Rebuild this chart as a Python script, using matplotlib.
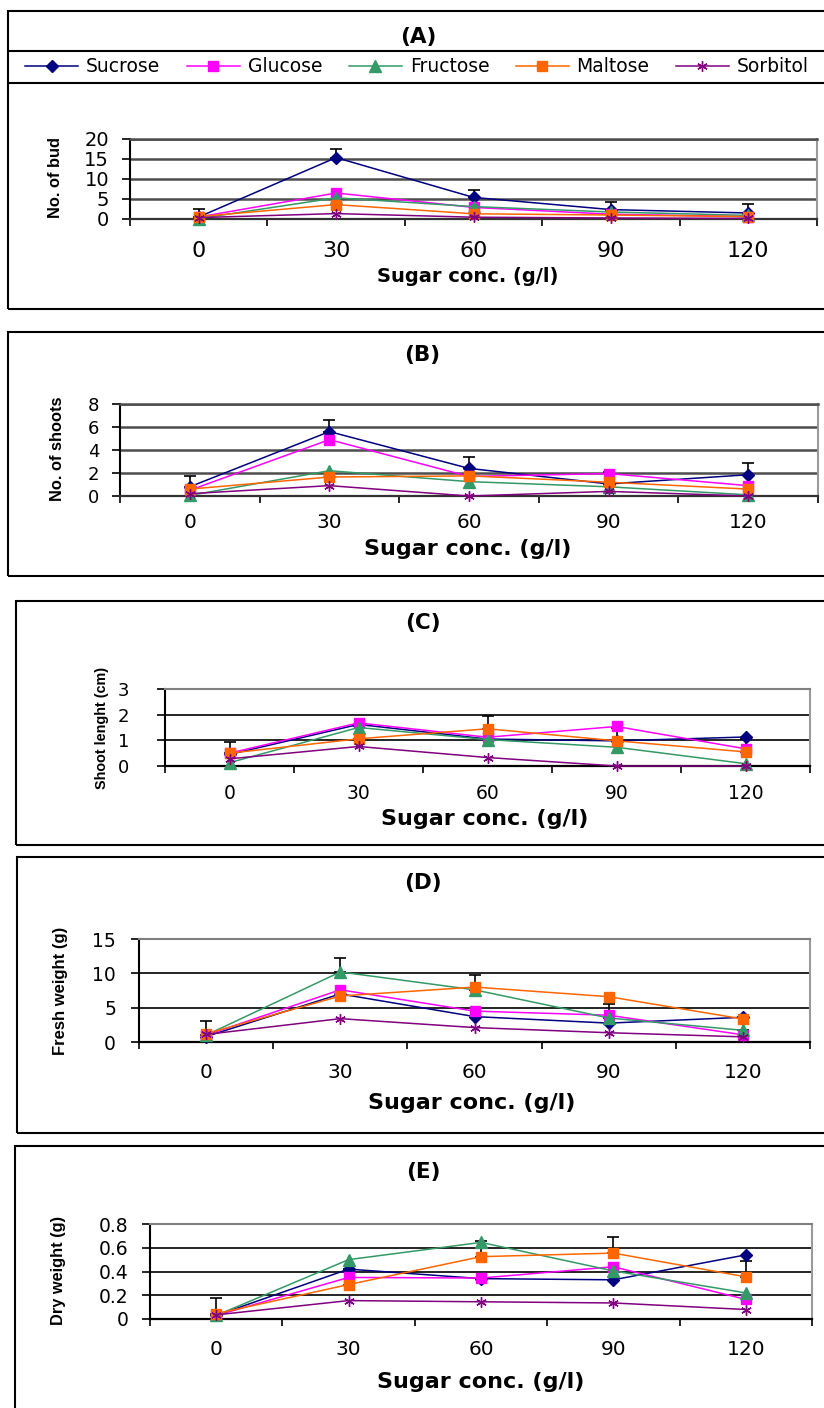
import numpy as np
import matplotlib
matplotlib.use("Agg")
import matplotlib.pyplot as plt
from matplotlib.patches import Rectangle
from matplotlib.lines import Line2D
from matplotlib.ticker import FixedLocator, FuncFormatter

# ---- data ----
sugar_conc = ["0", "30", "60", "90", "120"]
series_names = ["Sucrose", "Glucose", "Fructose", "Maltose", "Sorbitol"]

# (A) No. of bud
bud_sucrose = [0.5, 15.35, 5.4, 2.35, 1.5]
bud_glucose = [0.5, 6.5, 2.9, 1.2, 0.6]
bud_fructose = [0.1, 5.3, 3.1, 1.75, 0.9]
bud_maltose = [0.6, 3.6, 1.3, 1.0, 0.6]
bud_sorbitol = [0.35, 1.35, 0.45, 0.25, 0.15]
bud_err = [2.1, 2.05, 1.8, 1.9, 2.2]          # on Sucrose

# (B) No. of shoots
shoot_sucrose = [0.8, 5.6, 2.4, 1.05, 1.85]
shoot_glucose = [0.5, 4.9, 1.7, 1.95, 0.9]
shoot_fructose = [0.05, 2.2, 1.25, 0.8, 0.1]
shoot_maltose = [0.6, 1.65, 1.75, 1.2, 0.6]
shoot_sorbitol = [0.2, 0.9, 0.0, 0.4, 0.0]
shoot_err = [0.9, 1.0, 0.95, 1.0, 1.05]       # on Sucrose

# (C) Shoot length (cm)
length_sucrose = [0.45, 1.62, 1.05, 0.98, 1.13]
length_glucose = [0.5, 1.68, 1.12, 1.54, 0.67]
length_fructose = [0.13, 1.5, 1.03, 0.73, 0.09]
length_maltose = [0.5, 1.06, 1.45, 0.98, 0.55]
length_sorbitol = [0.28, 0.76, 0.33, 0.0, 0.0]
length_err = [0.45, 0.5, 0.5, 0.5, 0.5]       # on Maltose

# (D) Fresh weight (g)
fresh_sucrose = [0.8, 7.0, 3.7, 2.75, 3.6]
fresh_glucose = [1.0, 7.6, 4.5, 3.9, 1.05]
fresh_fructose = [1.0, 10.2, 7.6, 3.5, 1.7]
fresh_maltose = [1.2, 6.7, 8.0, 6.6, 3.35]
fresh_sorbitol = [1.1, 3.4, 2.1, 1.35, 0.75]
fresh_err = [2.1, 2.0, 2.2, 2.0, 2.0]         # on Fructose

# (E) Dry weight (g)
dry_sucrose = [0.03, 0.42, 0.34, 0.33, 0.54]
dry_glucose = [0.03, 0.35, 0.345, 0.44, 0.165]
dry_fructose = [0.03, 0.50, 0.645, 0.405, 0.22]
dry_maltose = [0.045, 0.29, 0.525, 0.555, 0.355]
dry_sorbitol = [0.035, 0.155, 0.145, 0.135, 0.08]
dry_err = [0.135, 0.135, 0.135, 0.135, 0.13]  # on Maltose

panels = [
    ("(A)", "No. of bud", [bud_sucrose, bud_glucose, bud_fructose, bud_maltose, bud_sorbitol],
     bud_err, 0, [0, 5, 10, 15, 20]),
    ("(B)", "No. of shoots", [shoot_sucrose, shoot_glucose, shoot_fructose, shoot_maltose, shoot_sorbitol],
     shoot_err, 0, [0, 2, 4, 6, 8]),
    ("(C)", "Shoot lenght (cm)", [length_sucrose, length_glucose, length_fructose, length_maltose, length_sorbitol],
     length_err, 3, [0, 1, 2, 3]),
    ("(D)", "Fresh weight (g)", [fresh_sucrose, fresh_glucose, fresh_fructose, fresh_maltose, fresh_sorbitol],
     fresh_err, 2, [0, 5, 10, 15]),
    ("(E)", "Dry weight (g)", [dry_sucrose, dry_glucose, dry_fructose, dry_maltose, dry_sorbitol],
     dry_err, 3, [0, 0.2, 0.4, 0.6, 0.8]),
]

colors = ["#000080", "#FF00FF", "#339966", "#FF6600", "#800080"]
markers = ["D", "s", "^", "s", (6, 2, 0)]
msizes = [6, 7, 8, 7, 7.5]

# ---- layout (pixels in a 824x1408 canvas, y from top) ----
W, H = 824, 1408

def fx(px):
    return px / W

def fy(py):
    return 1 - py / H

# box: x0, top, bottom ; axes: left, right, top, bottom
layout = [
    dict(box=(8, 11, 309), ax=(130, 817, 139, 219), title=(418, 37), xlab=(468, 276, 14),
         ylab=(55, 178, 11.8), xt=16, yt=14, xpad=11, ypad=9, grid=("#4d4d4d", 1.8)),
    dict(box=(8, 332, 576), ax=(120, 818, 404, 496), title=(422, 355), xlab=(468, 549, 16),
         ylab=(57, 449, 11.8), xt=14.5, yt=13, xpad=7.5, ypad=9, grid=("#4d4d4d", 1.8)),
    dict(box=(16, 601, 845), ax=(165, 810, 689, 766), title=(423, 623), xlab=(485, 819, 16),
         ylab=(102, 728, 10.4), xt=13.5, yt=13, xpad=8, ypad=20, grid=("black", 1.2)),
    dict(box=(17, 857, 1133), ax=(139, 810, 939, 1042), title=(423, 883), xlab=(472, 1103, 16),
         ylab=(61, 991, 12), xt=14.5, yt=13.5, xpad=10, ypad=10.5, grid=("black", 1.2)),
    dict(box=(15, 1146, 1420), ax=(150, 812, 1224, 1319), title=(423, 1172), xlab=(481, 1382, 16),
         ylab=(58, 1270, 11.8), xt=14.5, yt=13.5, xpad=10, ypad=9.5, grid=("black", 1.2)),
]

fig = plt.figure(figsize=(W / 100, H / 100), dpi=100)

x = np.arange(len(sugar_conc))
line_handles = None

for (title, ylabel, series, err, err_idx, yticks), lay in zip(panels, layout):
    x0, top, bottom = lay["box"]
    fig.add_artist(Rectangle((fx(x0), fy(bottom)), fx(840) - fx(x0), fy(top) - fy(bottom),
                             transform=fig.transFigure, fill=False, ec="black", lw=1.5))

    l, r, t, b = lay["ax"]
    ax = fig.add_axes([fx(l), fy(b), (r - l) / W, (b - t) / H])

    handles = []
    for vals, name, c, m, ms in zip(series, series_names, colors, markers, msizes):
        h, = ax.plot(x, vals, color=c, marker=m, markersize=ms, markerfacecolor=c,
                     markeredgecolor=c, markeredgewidth=1.0, lw=1.1, label=name, zorder=3,
                     clip_on=False)
        handles.append(h)
    if line_handles is None:
        line_handles = handles

    ax.errorbar(x, series[err_idx], yerr=[np.zeros(len(err)), err], fmt="none",
                ecolor="black", elinewidth=1.2, capsize=4.5, capthick=1.2, zorder=2)

    ax.set_xlim(-0.5, len(x) - 0.5)
    ax.set_ylim(0, yticks[-1])
    ax.set_yticks(yticks)
    ax.yaxis.set_major_formatter(FuncFormatter(lambda v, p: f"{v:g}"))

    ax.xaxis.set_major_locator(FixedLocator(np.arange(-0.5, len(x), 1.0)))
    ax.xaxis.set_minor_locator(FixedLocator(x))
    ax.xaxis.set_major_formatter(FuncFormatter(lambda v, p: ""))
    ax.set_xticklabels(sugar_conc, minor=True)
    ax.tick_params(axis="x", which="major", direction="out", length=5, width=1.2, color="black")
    ax.tick_params(axis="x", which="minor", length=0, labelsize=lay["xt"], pad=lay["xpad"] + 5)
    ax.tick_params(axis="y", direction="out", length=6, width=1.2, labelsize=lay["yt"],
                   pad=lay["ypad"])

    gc, gw = lay["grid"]
    ax.grid(axis="y", color=gc, lw=gw, zorder=1)
    ax.set_axisbelow(True)
    ax.spines["left"].set_linewidth(1.5)
    ax.spines["left"].set_color("black")
    ax.spines["bottom"].set_linewidth(1.6)
    ax.spines["bottom"].set_color("#333333" if gc != "black" else "black")
    ax.spines["top"].set_color(gc if gc != "black" else "#808080")
    ax.spines["top"].set_linewidth(gw if gc != "black" else 1.5)
    ax.spines["right"].set_color("#9a9a9a")
    ax.spines["right"].set_linewidth(1.5)

    tx, ty = lay["title"]
    fig.text(fx(tx), fy(ty), title, ha="center", va="center", fontsize=15.5, fontweight="bold")

    xlx, xly, xls = lay["xlab"]
    ax.set_xlabel("Sugar conc. (g/l)", fontsize=xls, fontweight="bold", va="center")
    ax.xaxis.set_label_coords(fx(xlx), fy(xly), transform=fig.transFigure)

    ylx, yly, yls = lay["ylab"]
    ax.set_ylabel(ylabel, fontsize=yls, fontweight="bold", va="center",
                  family=["Liberation Sans", "DejaVu Sans"])
    ax.yaxis.set_label_coords(fx(ylx), fy(yly), transform=fig.transFigure)

# panel A: title row and legend row dividers
for yy in (51, 83):
    fig.add_artist(Line2D([fx(8), fx(840)], [fy(yy), fy(yy)], transform=fig.transFigure,
                          color="black", lw=1.5))

fig.legend(line_handles, series_names, loc="center left", bbox_to_anchor=(fx(25), fy(67)),
           bbox_transform=fig.transFigure, ncol=5, frameon=False, fontsize=13.5,
           handlelength=2.83, handletextpad=0.43, columnspacing=1.4, borderpad=0,
           borderaxespad=0, numpoints=1)

fig.savefig("out.png", dpi=100)
